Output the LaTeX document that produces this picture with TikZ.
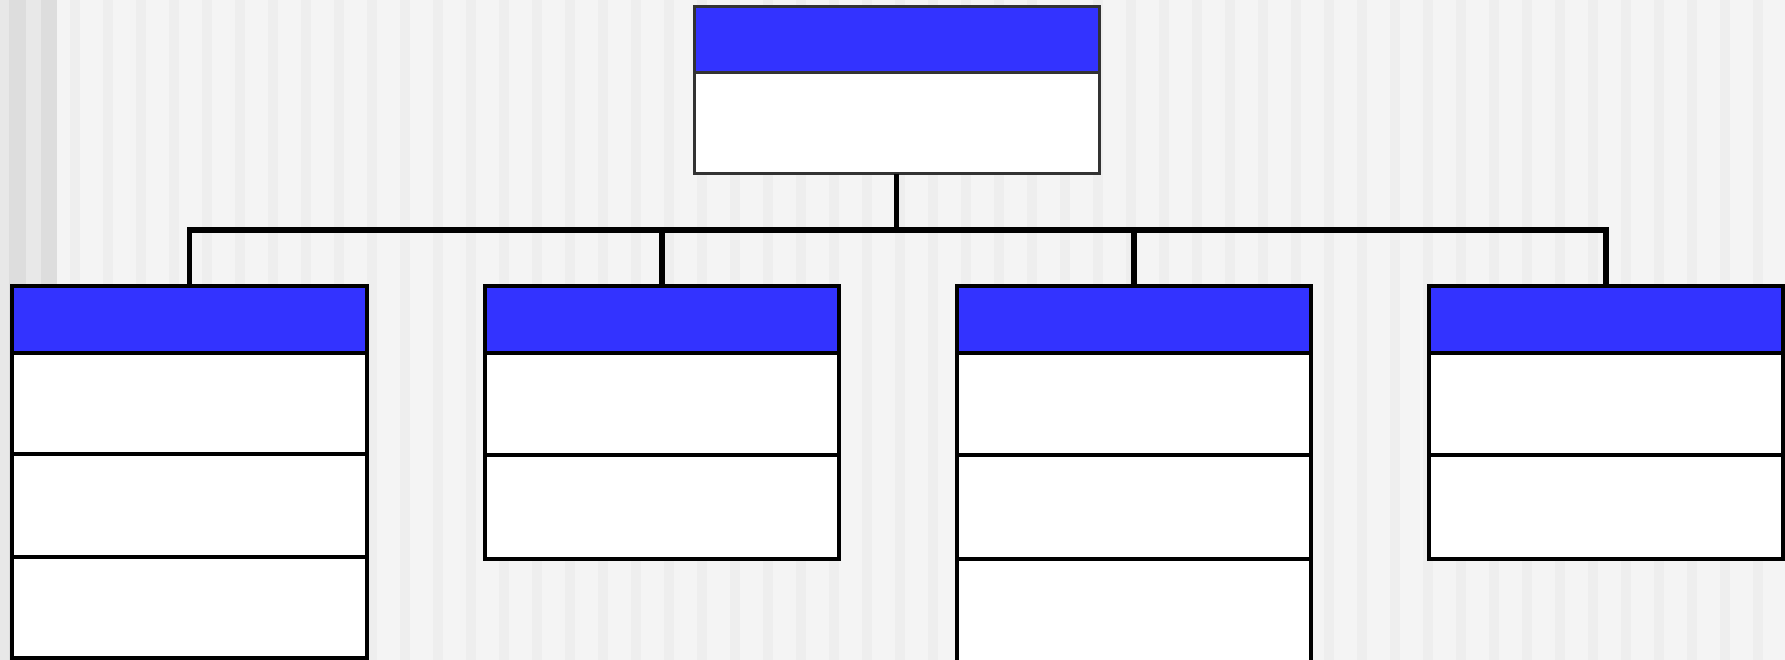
\documentclass[tikz,border=0pt]{standalone}
\usetikzlibrary{calc}
\definecolor{hdrblue}{HTML}{3333FF}
\definecolor{bgbase}{HTML}{F4F4F4}
\definecolor{bgstripe}{HTML}{EEEEEE}
\definecolor{lsA}{HTML}{E8E8E8}
\definecolor{lsB}{HTML}{DDDDDD}
\definecolor{topedge}{HTML}{333333}
\tikzset{
  hdr/.style={draw=black, line width=3.5pt, fill=hdrblue, rectangle, inner sep=0pt, outer sep=0pt,
              minimum width=355pt, minimum height=67pt, anchor=north west},
  cell/.style={draw=black, line width=3.5pt, fill=white, rectangle, inner sep=0pt, outer sep=0pt,
              minimum width=355pt, minimum height=102pt, anchor=north},
  tophdr/.style={hdr, draw=topedge, line width=3pt, minimum width=405pt, minimum height=66pt},
  topcell/.style={cell, draw=topedge, line width=3pt, minimum width=405pt, minimum height=101pt},
  conn/.style={draw=black, line width=5.5pt}
}
\begin{document}
\begin{tikzpicture}[x=1pt,y=-1pt]
\useasboundingbox (0,0) rectangle (1785,660);
\clip (0,0) rectangle (1785,660);
% background
\fill[bgbase] (0,0) rectangle (1785,660);
\foreach \s in {0,...,52} {
  \fill[bgstripe] ({70+33*\s},0) rectangle ({80+33*\s},660);
}
\fill[lsA] (0,0) rectangle (9,660);
\fill[lsB] (9,0) rectangle (26,660);
\fill[lsA] (26,0) rectangle (41,660);
\fill[lsB] (41,0) rectangle (57,660);

\coordinate (bar) at (898,230);

% top box
\node[tophdr] (th) at (694,7) {};
\node[topcell] (tc) at (th.south) {};

% box 1
\node[hdr] (b1h) at (12,286) {};
\node[cell, minimum height=101pt] (b1a) at (b1h.south) {};
\node[cell, minimum height=103pt] (b1b) at (b1a.south) {};
\node[cell, minimum height=101pt] (b1c) at (b1b.south) {};

% box 2
\node[hdr, minimum width=354pt] (b2h) at (485,286) {};
\node[cell, minimum width=354pt, minimum height=102pt] (b2a) at (b2h.south) {};
\node[cell, minimum width=354pt, minimum height=104pt] (b2b) at (b2a.south) {};

% box 3
\node[hdr, minimum width=354pt] (b3h) at (957,286) {};
\node[cell, minimum width=354pt, minimum height=102pt] (b3a) at (b3h.south) {};
\node[cell, minimum width=354pt, minimum height=104pt] (b3b) at (b3a.south) {};
\node[cell, minimum width=354pt, minimum height=104pt] (b3c) at (b3b.south) {};

% box 4
\node[hdr, minimum width=354pt] (b4h) at (1429,286) {};
\node[cell, minimum width=354pt, minimum height=102pt] (b4a) at (b4h.south) {};
\node[cell, minimum width=354pt, minimum height=104pt] (b4b) at (b4a.south) {};

% connectors
\draw[conn] (tc.south) -- (tc.south |- bar);
\draw[conn] (b1h.north) -- (b1h.north |- bar) -- (b4h.north |- bar) -- (b4h.north);
\draw[conn] (b2h.north) -- (b2h.north |- bar);
\draw[conn] (b3h.north) -- (b3h.north |- bar);
\end{tikzpicture}
\end{document}
